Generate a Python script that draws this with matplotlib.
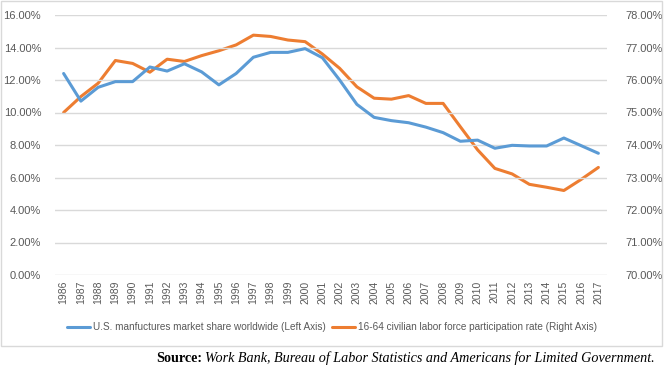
import numpy as np
import matplotlib.pyplot as plt
from matplotlib.patches import Rectangle
from matplotlib.ticker import FuncFormatter

years = [str(y) for y in range(1986, 2018)]

# U.S. manufactures market share worldwide (%), left axis
mfg_share = [12.4, 10.7, 11.55, 11.9, 11.9, 12.8, 12.55, 13.0, 12.5, 11.7,
             12.4, 13.4, 13.7, 13.7, 13.93, 13.37, 12.0, 10.5, 9.7, 9.5,
             9.37, 9.1, 8.76, 8.23, 8.3, 7.8, 7.98, 7.94, 7.94, 8.43,
             7.96, 7.49]

# 16-64 civilian labor force participation rate (%), right axis
lfpr = [75.0, 75.49, 75.9, 76.6, 76.51, 76.24, 76.64, 76.57, 76.75, 76.9,
        77.08, 77.38, 77.34, 77.23, 77.18, 76.8, 76.36, 75.79, 75.44, 75.41,
        75.52, 75.28, 75.28, 74.56, 73.85, 73.28, 73.11, 72.79, 72.7, 72.6,
        72.94, 73.31]

blue = '#5B9BD5'
orange = '#ED7D31'
grey_txt = '#595959'

plt.rcParams['font.family'] = ['Liberation Sans', 'DejaVu Sans']

fig = plt.figure(figsize=(6.64, 3.77), dpi=100)

# chart border
fig.patches.append(Rectangle((1 / 664, 1 - 346 / 377), 661 / 664, 345 / 377,
                             transform=fig.transFigure, fill=False,
                             edgecolor='#D9D9D9', linewidth=1))

ax = fig.add_axes([55 / 664, 1 - 275 / 377, 552 / 664, 260 / 377])
ax2 = ax.twinx()

x = np.arange(len(years))
l1, = ax.plot(x, mfg_share, color=blue, linewidth=2.2, solid_capstyle='round',
              label='U.S. manfuctures market share worldwide (Left Axis)')
l2, = ax2.plot(x, lfpr, color=orange, linewidth=2.2, solid_capstyle='round',
               label='16-64 civilian labor force participation rate (Right Axis)')

ax.set_xlim(-0.5, len(years) - 0.5)
ax.set_ylim(0, 16)
ax2.set_ylim(70, 78)
ax.set_yticks(np.arange(0, 17, 2))
ax2.set_yticks(np.arange(70, 79, 1))
ax.yaxis.set_major_formatter(FuncFormatter(lambda v, p: f'{v:.2f}%'))
ax2.yaxis.set_major_formatter(FuncFormatter(lambda v, p: f'{v:.2f}%'))
ax.set_xticks(x)
ax.set_xticklabels(years, rotation=90)

ax.grid(axis='y', color='#D9D9D9', linewidth=1)
ax.set_axisbelow(True)
for a in (ax, ax2):
    for s in a.spines.values():
        s.set_visible(False)
    a.tick_params(length=0, labelsize=8, labelcolor=grey_txt)
ax.tick_params(axis='x', labelsize=7.5, pad=4)
ax.tick_params(axis='y', pad=10)
ax2.tick_params(axis='y', pad=13)
ax.set_zorder(ax2.get_zorder() + 1)
ax.patch.set_visible(False)

fig.legend(handles=[l1, l2], loc='center', bbox_to_anchor=(0.5, 1 - 327 / 377),
           ncol=2, frameon=False, fontsize=7.2, handlelength=2.3,
           columnspacing=0.6, handletextpad=0.3, labelcolor=grey_txt)

src = fig.text(655 / 664, 1 - 358 / 377,
               'Work Bank, Bureau of Labor Statistics and Americans for Limited Government.',
               fontsize=10.2, style='italic', family='Liberation Serif',
               ha='right', va='center')
fig.canvas.draw()
bb = src.get_window_extent()
fig.text((bb.x0 - 3) / 664, 1 - 358 / 377, 'Source:', fontsize=10.2,
         fontweight='bold', family='Liberation Serif', ha='right', va='center')

fig.savefig('out.png', dpi=100)
